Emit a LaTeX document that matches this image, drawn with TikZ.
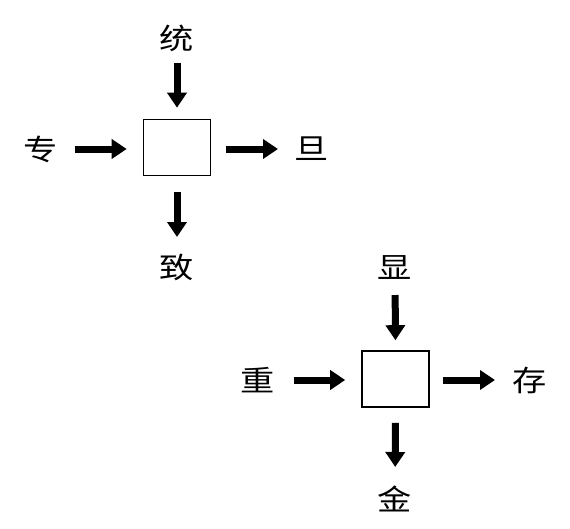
\documentclass[tikz,border=0pt]{standalone}
\usepackage{fontspec}
\newfontfamily\cjk[FakeStretch=1.18]{Noto Sans CJK SC}
\usetikzlibrary{arrows.meta}

\begin{document}
\begin{tikzpicture}[x=1pt,y=-1pt,>={Triangle[width=19pt,length=15pt]},
  hanzi/.style={inner sep=0pt,font=\cjk\fontsize{29}{30}\selectfont},
  blank/.style={draw,rectangle,line width=1.6pt,minimum width=67pt,minimum height=56pt},
  thickarrow/.style={->,line width=7pt}]
	\useasboundingbox (0,0) rectangle (570,528);
	% first square
	\node [blank] (b1) at (177,147.5) {};
	\node [hanzi] (t1) at (177,38) {统};
	\node [hanzi] (l1) at (41,149) {专};
	\node [hanzi] (r1) at (312,149) {旦};
	\node [hanzi] (d1) at (177,267) {致};
	\draw [thickarrow,shorten <=25pt,shorten >=11pt] (t1.center) -- (b1.north);
	\draw [thickarrow,shorten <=34pt,shorten >=16pt] (l1.center) -- (b1.west |- l1.center);
	\draw [thickarrow,shorten <=15pt,shorten >=34pt] (b1.east |- r1.center) -- (r1.center);
	\draw [thickarrow,shorten <=16pt,shorten >=30pt] (b1.south) -- (d1.center);
	% second square
	\node [blank] (b2) at (395.5,379) {};
	\node [hanzi] (t2) at (395,268) {显};
	\node [hanzi] (l2) at (258,380) {重};
	\node [hanzi] (r2) at (530,380) {存};
	\node [hanzi] (d2) at (395,499) {金};
	\draw [thickarrow,shorten <=27pt,shorten >=10pt] (t2.center) -- (b2.north);
	\draw [thickarrow,shorten <=36pt,shorten >=16pt] (l2.center) -- (b2.west |- l2.center);
	\draw [thickarrow,shorten <=13pt,shorten >=35pt] (b2.east |- r2.center) -- (r2.center);
	\draw [thickarrow,shorten <=15pt,shorten >=32pt] (b2.south) -- (d2.center);
\end{tikzpicture}
\end{document}
